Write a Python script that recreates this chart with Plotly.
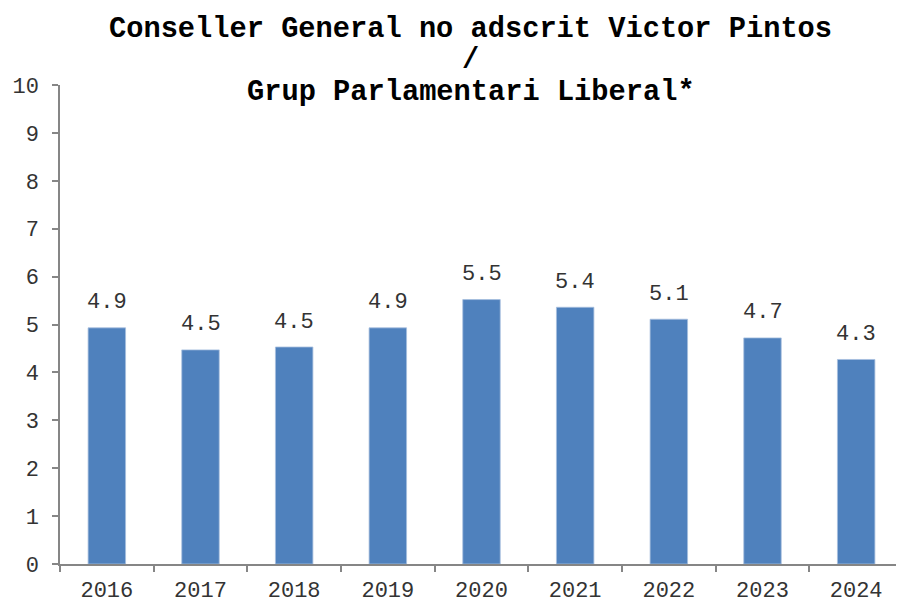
import plotly.graph_objects as go

years = ["2016", "2017", "2018", "2019", "2020", "2021", "2022", "2023", "2024"]
values = [4.93, 4.47, 4.53, 4.93, 5.52, 5.36, 5.11, 4.72, 4.27]
title_lines = ["Conseller General no adscrit Victor Pintos", "/", "Grup Parlamentari Liberal*"]

FONT = "Liberation Mono, Courier New, monospace"
AXIS_COLOR = "#868686"
TEXT_COLOR = "#333333"

# the page body adds an 8px offset, so the figure is sized/margined to compensate
FIG_W, FIG_H = 896, 595
M_L, M_R, M_T, M_B = 52, 1, 77, 39
PLOT_H = FIG_H - M_T - M_B

fig = go.Figure(
    go.Bar(
        x=years,
        y=values,
        width=0.4,
        marker=dict(color="#4F81BD", line=dict(color="#A7BFDE", width=0.8)),
        hoverinfo="x+y",
    )
)

# data labels (placed at each category index)
for i, v in enumerate(values):
    fig.add_annotation(
        x=i, y=v, text=f"{v:.1f}",
        xref="x", yref="y",
        showarrow=False, yanchor="middle", yshift=25,
        font=dict(family=FONT, size=22, color=TEXT_COLOR),
    )

for i, line in enumerate(title_lines):
    fig.add_annotation(
        text="<b>" + line + "</b>",
        xref="paper", yref="paper",
        x=0.5, y=1 + (M_T - (21 + 32 * i)) / PLOT_H,
        xanchor="center", yanchor="middle", xshift=-11,
        showarrow=False,
        font=dict(family=FONT, size=28.7, color="#000000"),
    )

fig.update_layout(
    width=FIG_W, height=FIG_H,
    margin=dict(l=M_L, r=M_R, t=M_T, b=M_B),
    paper_bgcolor="white", plot_bgcolor="white",
    showlegend=False,
    font=dict(family=FONT, color=TEXT_COLOR),
)
fig.update_xaxes(
    type="category", automargin=False, range=[-0.5, len(years) - 0.5],
    showline=True, linecolor=AXIS_COLOR, linewidth=1.5,
    ticks="outside", tickson="boundaries", ticklen=6, tickcolor=AXIS_COLOR, tickwidth=1.5,
    tickfont=dict(family=FONT, size=22, color=TEXT_COLOR),
    tickangle=0, ticklabelstandoff=5,
    showgrid=False,
)
fig.update_yaxes(
    range=[0, 10], dtick=1, automargin=False,
    showline=True, linecolor=AXIS_COLOR, linewidth=1.5,
    ticks="outside", ticklen=6, tickcolor=AXIS_COLOR, tickwidth=1.5,
    tickfont=dict(family=FONT, size=22, color=TEXT_COLOR),
    ticklabelstandoff=9,
    showgrid=False, zeroline=False,
)

fig.write_html("out.html")
